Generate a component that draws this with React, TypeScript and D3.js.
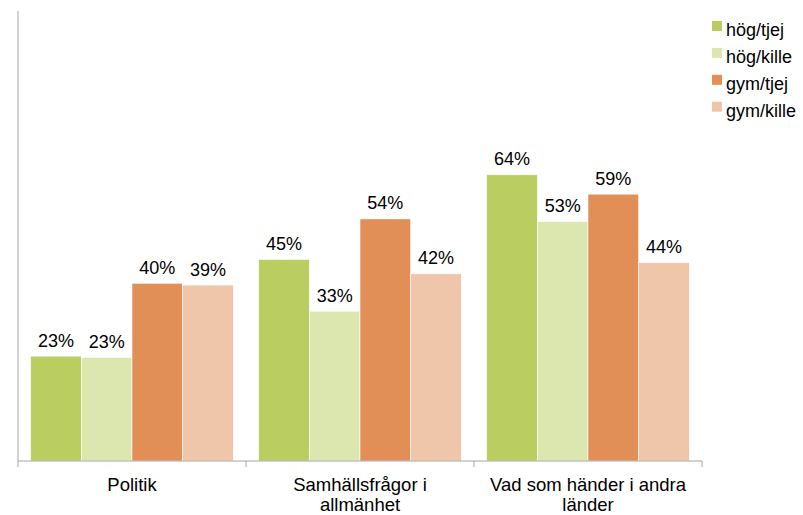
import React from 'react'
import * as d3 from 'd3'

// categories along the x axis (lines as wrapped in the original)
const categories = ['Politik', 'Samhällsfrågor i allmänhet', 'Vad som händer i andra länder']
const categoryLines = [['Politik'], ['Samhällsfrågor i', 'allmänhet'], ['Vad som händer i andra', 'länder']]

const series = ['hög/tjej', 'hög/kille', 'gym/tjej', 'gym/kille']
const colors = ['#bacd61', '#dce6af', '#e18e57', '#f0c6aa']

// percent per series, one entry per category
const hogTjej = [23.3, 44.8, 63.6]
const hogKille = [23.0, 33.3, 53.2]
const gymTjej = [39.5, 53.8, 59.3]
const gymKille = [39.1, 41.6, 44.1]
const values = [hogTjej, hogKille, gymTjej, gymKille]

const W = 803
const H = 515
const left = 18
const right = 702
const top = 11
const bottom = 461

const font = '"Liberation Sans", Arial, sans-serif'

export default function App() {
    const x0 = d3.scaleBand().domain(categories).range([left, right]).padding(0)
    const inner = x0.bandwidth()
    const x1 = d3.scaleBand().domain(series).range([12.7, inner - 12.7]).padding(0)
    const y = d3.scaleLinear().domain([0, 100]).range([bottom, top])

    const ticks = categories.map(c => x0(c))
    ticks.push(right)

    return (
        <svg width={W} height={H} style={{ position: 'absolute', left: 0, top: 0, background: '#fff' }}
            fontFamily={font}>
            {categories.map((c, ci) => (
                <g key={c} transform={`translate(${x0(c)},0)`}>
                    {series.map((s, si) => {
                        const v = values[si][ci]
                        const bx = x1(s)
                        return (
                            <g key={s}>
                                <rect x={bx} y={y(v)} width={x1.bandwidth()} height={bottom - y(v)}
                                    fill={colors[si]} stroke="#fff" strokeWidth={0.6} />
                                <text x={bx + x1.bandwidth() / 2} y={y(v) - 9.5} textAnchor="middle"
                                    fontSize={18} fill="#000">{Math.round(v)}%</text>
                            </g>
                        )
                    })}
                </g>
            ))}

            {/* axes */}
            <line x1={left} x2={left} y1={top} y2={bottom} stroke="#a6a6a6" />
            <line x1={left} x2={right} y1={bottom} y2={bottom} stroke="#a6a6a6" />
            {ticks.map((t, i) => (
                <line key={i} x1={t} x2={t} y1={bottom} y2={bottom + 6} stroke="#a6a6a6" />
            ))}

            {categories.map((c, ci) => (
                <text key={c} x={x0(c) + inner / 2} y={491} textAnchor="middle" fontSize={18.5} fill="#000">
                    {categoryLines[ci].map((line, li) => (
                        <tspan key={li} x={x0(c) + inner / 2} dy={li === 0 ? 0 : 19.5}>{line}</tspan>
                    ))}
                </text>
            ))}

            {/* legend */}
            {series.map((s, i) => (
                <g key={s} transform={`translate(712,${21 + i * 26.9})`}>
                    <rect width={10} height={10} fill={colors[i]} />
                    <text x={14} y={15} fontSize={18} fill="#000">{s}</text>
                </g>
            ))}
        </svg>
    )
}
